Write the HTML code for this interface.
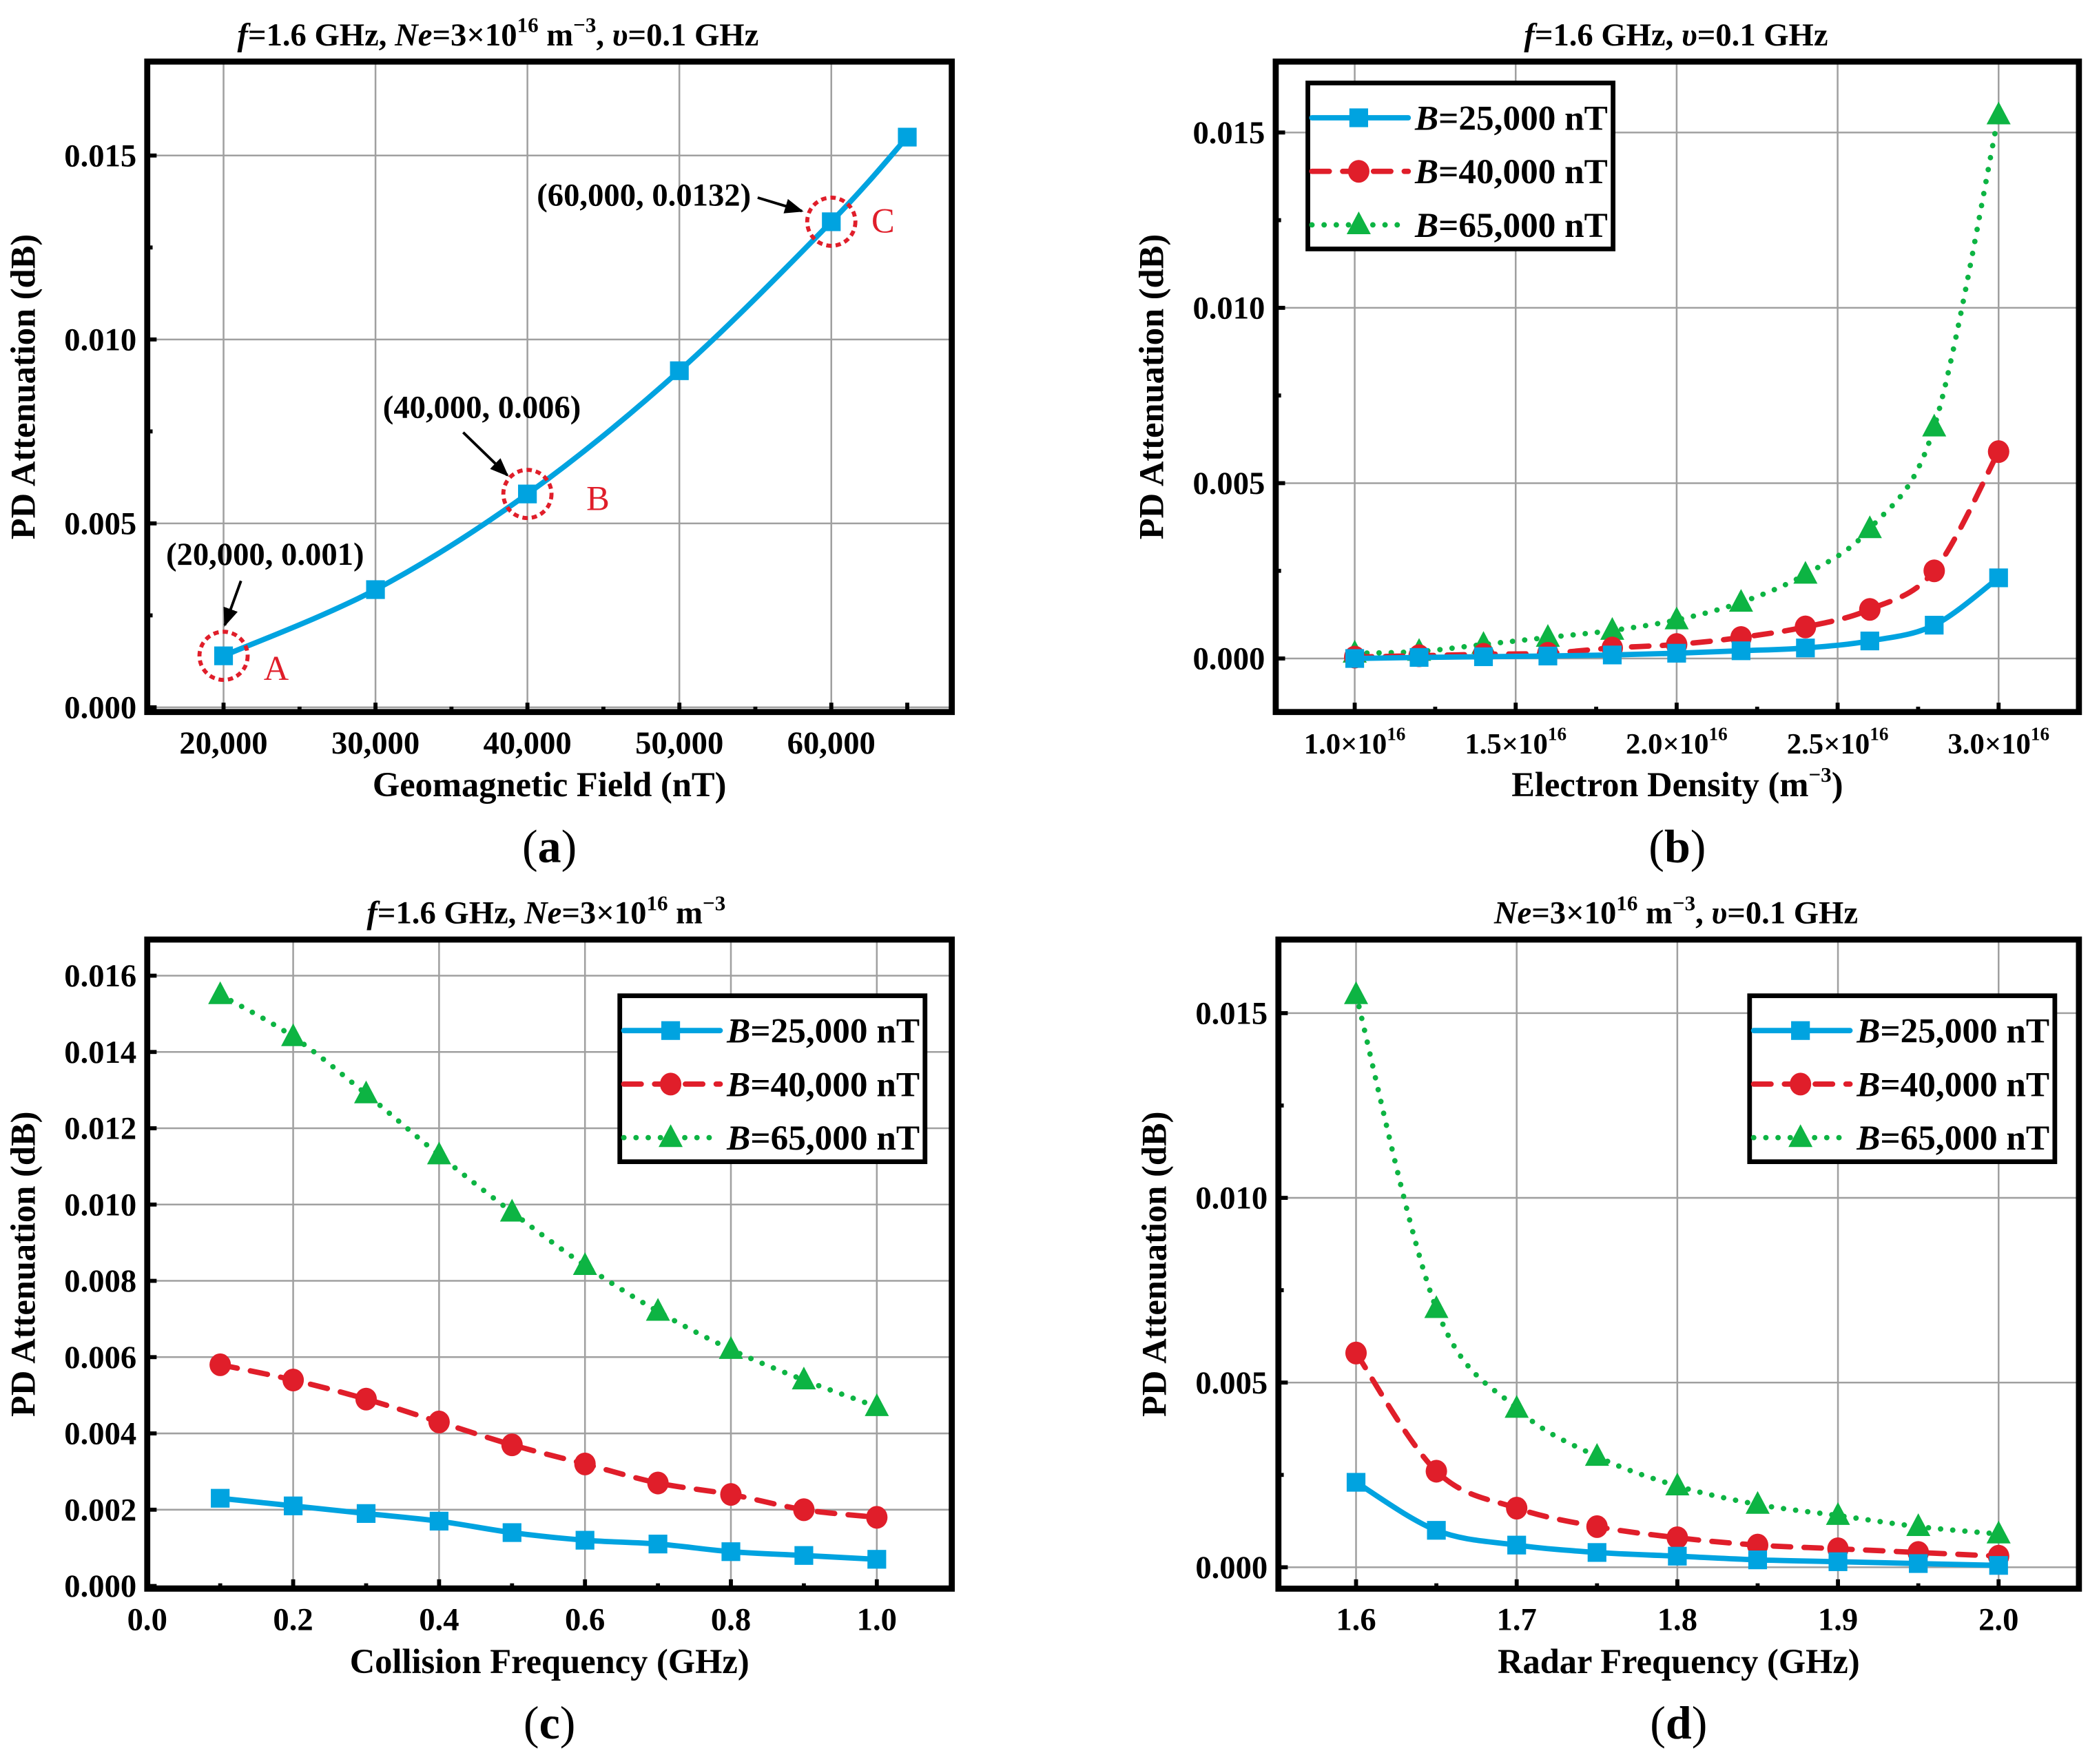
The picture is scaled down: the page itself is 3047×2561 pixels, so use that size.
<!DOCTYPE html>
<html><head><meta charset="utf-8">
<style>
html,body{margin:0;padding:0;background:#fff;}
svg{display:block;}
text{font-family:"Liberation Serif",serif;font-weight:bold;fill:#000;}
</style></head>
<body>
<svg id="fig" width="3047" height="2561" viewBox="0 0 1568 1318" preserveAspectRatio="none" xmlns="http://www.w3.org/2000/svg"></svg>
<script>
// ---- data ----
const aX = [20000, 30000, 40000, 50000, 60000, 65000];
const aY = [0.0014, 0.0032, 0.0058, 0.00915, 0.0132, 0.0155];
const aXTicks = [20000, 30000, 40000, 50000, 60000];
const aXTickLabels = ["20,000", "30,000", "40,000", "50,000", "60,000"];
const aYTicks = [0, 0.005, 0.010, 0.015];
const aYTickLabels = ["0.000", "0.005", "0.010", "0.015"];

const bX = [1.0, 1.2, 1.4, 1.6, 1.8, 2.0, 2.2, 2.4, 2.6, 2.8, 3.0];
const bBlue = [0, 0.00003, 0.00005, 0.00007, 0.0001, 0.00015, 0.00022, 0.0003, 0.0005, 0.00095, 0.0023];
const bRed = [0.00004, 0.00008, 0.00012, 0.00015, 0.0003, 0.0004, 0.0006, 0.0009, 0.0014, 0.0025, 0.0059];
const bGreen = [0.00015, 0.0002, 0.0004, 0.0006, 0.0008, 0.0011, 0.0016, 0.0024, 0.0037, 0.0066, 0.0155];
const bXTicks = [1.0, 1.5, 2.0, 2.5, 3.0];
const bXTickLabels = ["1.0×10", "1.5×10", "2.0×10", "2.5×10", "3.0×10"];
const bYTicks = [0, 0.005, 0.010, 0.015];
const bYTickLabels = ["0.000", "0.005", "0.010", "0.015"];

const cX = [0.1, 0.2, 0.3, 0.4, 0.5, 0.6, 0.7, 0.8, 0.9, 1.0];
const cBlue = [0.0023, 0.0021, 0.0019, 0.0017, 0.0014, 0.0012, 0.0011, 0.0009, 0.0008, 0.0007];
const cRed = [0.0058, 0.0054, 0.0049, 0.0043, 0.0037, 0.0032, 0.0027, 0.0024, 0.0020, 0.0018];
const cGreen = [0.0155, 0.0144, 0.0129, 0.0113, 0.0098, 0.0084, 0.0072, 0.0062, 0.0054, 0.0047];
const cXTicks = [0, 0.2, 0.4, 0.6, 0.8, 1.0];
const cXTickLabels = ["0.0", "0.2", "0.4", "0.6", "0.8", "1.0"];
const cYTicks = [0, 0.002, 0.004, 0.006, 0.008, 0.010, 0.012, 0.014, 0.016];
const cYTickLabels = ["0.000", "0.002", "0.004", "0.006", "0.008", "0.010", "0.012", "0.014", "0.016"];

const dX = [1.6, 1.65, 1.7, 1.75, 1.8, 1.85, 1.9, 1.95, 2.0];
const dBlue = [0.0023, 0.0010, 0.0006, 0.0004, 0.0003, 0.0002, 0.00015, 0.0001, 0.00005];
const dRed = [0.0058, 0.0026, 0.0016, 0.0011, 0.0008, 0.0006, 0.0005, 0.0004, 0.0003];
const dGreen = [0.0155, 0.0070, 0.0043, 0.0030, 0.0022, 0.0017, 0.0014, 0.0011, 0.0009];
const dXTicks = [1.6, 1.7, 1.8, 1.9, 2.0];
const dXTickLabels = ["1.6", "1.7", "1.8", "1.9", "2.0"];
const dYTicks = [0, 0.005, 0.010, 0.015];
const dYTickLabels = ["0.000", "0.005", "0.010", "0.015"];

const legendLabels = ["=25,000 nT", "=40,000 nT", "=65,000 nT"];

// ---- helpers ----
const NS = "http://www.w3.org/2000/svg";
const svg = document.getElementById("fig");
function mk(tag, attrs, parent) {
  const e = document.createElementNS(NS, tag);
  for (const k in attrs) e.setAttribute(k, attrs[k]);
  (parent || svg).appendChild(e);
  return e;
}
function linScale(d0, d1, r0, r1) { return v => r0 + (v - d0) * (r1 - r0) / (d1 - d0); }
function smoothPath(pts) {
  let d = "M" + pts[0][0] + "," + pts[0][1];
  for (let i = 0; i < pts.length - 1; i++) {
    const p0 = pts[Math.max(0, i - 1)], p1 = pts[i], p2 = pts[i + 1], p3 = pts[Math.min(pts.length - 1, i + 2)];
    const c1x = p1[0] + (p2[0] - p0[0]) / 6, c1y = p1[1] + (p2[1] - p0[1]) / 6;
    const c2x = p2[0] - (p3[0] - p1[0]) / 6, c2y = p2[1] - (p3[1] - p1[1]) / 6;
    d += " C" + c1x + "," + c1y + " " + c2x + "," + c2y + " " + p2[0] + "," + p2[1];
  }
  return d;
}
const STY = {
  blue: {color: "#00a3e0", dash: null, cap: "round", marker: "square"},
  red: {color: "#e01e2a", dash: "13,10", cap: "round", marker: "circle"},
  green: {color: "#0db443", dash: "0.1,9", cap: "round", marker: "tri"}
};
function marker(g, kind, x, y, color) {
  let m;
  if (kind === "square") m = mk("rect", {x: x - 7, y: y - 7, width: 14, height: 14, fill: color}, g);
  else if (kind === "circle") m = mk("ellipse", {cx: x, cy: y, rx: 8, ry: 8.5, fill: color}, g);
  else m = mk("polygon", {points: (x) + "," + (y - 10) + " " + (x - 9) + "," + (y + 7) + " " + (x + 9) + "," + (y + 7), fill: color}, g);
  return m;
}
function series(g, xs, ys, sx, sy, sty, name) {
  const pts = xs.map((v, i) => [sx(v), sy(ys[i])]);
  const s = mk("g", {}, g);
  
  
  const attrs = {d: smoothPath(pts), fill: "none", stroke: sty.color, "stroke-width": 4, "stroke-linecap": sty.cap};
  if (sty.dash) attrs["stroke-dasharray"] = sty.dash;
  const p = mk("path", attrs, s);
  
  
  pts.forEach((pt, i) => {
    const m = marker(s, sty.marker, pt[0], pt[1], sty.color);
    
    
  });
}

function panel(cfg) {
  const g = mk("g", {});
  
  
  const B = cfg.box;
  const sx = linScale(cfg.xd[0], cfg.xd[1], cfg.xr[0], cfg.xr[1]);
  const sy = linScale(cfg.yd[0], cfg.yd[1], cfg.yr[0], cfg.yr[1]);
  const grid = mk("g", {stroke: "#a0a0a0", "stroke-width": 1.3}, g);
  
  
  cfg.gx.forEach(v => { const l = mk("line", {x1: sx(v), x2: sx(v), y1: B[1], y2: B[3]}, grid);
    
     });
  cfg.yt.forEach(v => { const l = mk("line", {x1: B[0], x2: B[2], y1: sy(v), y2: sy(v)}, grid);
    
     });
  const tk = mk("g", {stroke: "#000", "stroke-width": 3}, g);
  
  
  cfg.xt.forEach(v => { const l = mk("line", {x1: sx(v), x2: sx(v), y1: B[3], y2: B[3] - 7}, tk);
    
     });
  cfg.yt.forEach(v => { const l = mk("line", {x1: B[0], x2: B[0] + 7, y1: sy(v), y2: sy(v)}, tk);
    
     });
  cfg.ymt.forEach(v => { const l = mk("line", {x1: B[0], x2: B[0] + 4, y1: sy(v), y2: sy(v)}, tk);
    
     });
  cfg.xmt.forEach(v => { const l = mk("line", {x1: sx(v), x2: sx(v), y1: B[3], y2: B[3] - 4}, tk);
    
     });
  cfg.xt.forEach((v, i) => {
    const t = mk("text", {x: sx(v), y: B[3] + 31, "text-anchor": "middle", "font-size": cfg.sup ? 22 : 24}, g);
    
    
    t.textContent = cfg.xl[i];
    if (cfg.sup) { const s = mk("tspan", {"font-size": 14, dy: -10}, t); s.textContent = "16"; }
  });
  cfg.yt.forEach((v, i) => {
    const t = mk("text", {x: B[0] - 8, y: sy(v) + 8, "text-anchor": "end", "font-size": 24}, g);
    
    
    t.textContent = cfg.yl[i];
  });
  cfg.series.forEach(s => series(g, s.x, s.y, sx, sy, STY[s.sty], s.name));
  const fr = mk("rect", {x: B[0], y: B[1], width: B[2] - B[0], height: B[3] - B[1], fill: "none", stroke: "#000", "stroke-width": 4.5}, g);
  
  
  const cx = (B[0] + B[2]) / 2;
  const xt = mk("text", {x: cx, y: B[3] + 63, "text-anchor": "middle", "font-size": 26}, g);
  
  
  xt.textContent = cfg.xtitle;
  if (cfg.xtitleSup) { const s = mk("tspan", {"font-size": 16, dy: -11}, xt); s.textContent = "−3"; const s2 = mk("tspan", {dy: 11}, xt); s2.textContent = ")"; }
  const yc = (B[1] + B[3]) / 2;
  const ya = B[0] - 84;
  const yt = mk("text", {x: ya, y: yc, "text-anchor": "middle", "font-size": 26, transform: "rotate(-90 " + ya + " " + yc + ")"}, g);
  
  
  yt.textContent = "PD Attenuation (dB)";
  const tt = mk("text", {x: cfg.titleX, y: B[1] - 12, "text-anchor": "middle", "font-size": 24}, g);
  
  
  cfg.title.forEach(p => { const s = mk("tspan", p.a || {}, tt); s.textContent = p.t; });
  const pl = mk("text", {x: cx, y: B[3] + 112, "text-anchor": "middle", "font-size": 35}, g);
  
  
  const p1 = mk("tspan", {"font-weight": "normal"}, pl); p1.textContent = "(";
  const p2 = mk("tspan", {}, pl); p2.textContent = cfg.label;
  const p3 = mk("tspan", {"font-weight": "normal"}, pl); p3.textContent = ")";
  if (cfg.legend) {
    const L = cfg.legend;
    const lg = mk("g", {}, g);
    
    
    const lr = mk("rect", {x: L[0], y: L[1], width: 228, height: 124, fill: "#fff", stroke: "#000", "stroke-width": 3.5}, lg);
    
    
    ["blue", "red", "green"].forEach((k, i) => {
      const st = STY[k];
      const y = L[1] + 26 + i * 40;
      const e = mk("g", {}, lg);
      
      
      const la = {x1: L[0] + 3, x2: L[0] + 75, y1: y, y2: y, stroke: st.color, "stroke-width": 4, "stroke-linecap": "round"};
      if (st.dash) la["stroke-dasharray"] = st.dash;
      mk("line", la, e);
      marker(e, st.marker, L[0] + 38, y, st.color);
      const t = mk("text", {x: L[0] + 80, y: y + 9, "font-size": 26, textLength: 144, lengthAdjust: "spacingAndGlyphs"}, e);
      const b = mk("tspan", {"font-style": "italic"}, t); b.textContent = "B";
      const r = mk("tspan", {}, t); r.textContent = legendLabels[i];
    });
  }
  return {g, sx, sy};
}

const SUP = {"font-size": 16, dy: -10};
const titleA = [{t: "f", a: {"font-style": "italic"}}, {t: "=1.6 GHz, "}, {t: "Ne", a: {"font-style": "italic"}}, {t: "=3×10"}, {t: "16", a: SUP}, {t: " m", a: {dy: 10}}, {t: "−3", a: SUP}, {t: ", ", a: {dy: 10}}, {t: "υ", a: {"font-style": "italic"}}, {t: "=0.1 GHz"}];
const titleB = [{t: "f", a: {"font-style": "italic"}}, {t: "=1.6 GHz, "}, {t: "υ", a: {"font-style": "italic"}}, {t: "=0.1 GHz"}];
const titleC = [{t: "f", a: {"font-style": "italic"}}, {t: "=1.6 GHz, "}, {t: "Ne", a: {"font-style": "italic"}}, {t: "=3×10"}, {t: "16", a: SUP}, {t: " m", a: {dy: 10}}, {t: "−3", a: SUP}];
const titleD = [{t: "Ne", a: {"font-style": "italic"}}, {t: "=3×10"}, {t: "16", a: SUP}, {t: " m", a: {dy: 10}}, {t: "−3", a: SUP}, {t: ", ", a: {dy: 10}}, {t: "υ", a: {"font-style": "italic"}}, {t: "=0.1 GHz"}];

const pa = panel({name: "panel-a", box: [110, 46, 711, 532], xd: [20000, 60000], xr: [167, 621], yd: [0, 0.015], yr: [528.5, 116.2],
  gx: [20000, 30000, 40000, 50000, 60000], xt: aXTicks.concat([65000]), xl: aXTickLabels.concat([""]), xmt: [25000, 35000, 45000, 55000],
  yt: aYTicks, yl: aYTickLabels, ymt: [0.0025, 0.0075, 0.0125],
  series: [{x: aX, y: aY, sty: "blue", name: "series-geomagnetic"}],
  xtitle: "Geomagnetic Field (nT)", title: titleA, titleX: 372, label: "a"});

const pb = panel({name: "panel-b", box: [953, 46, 1553, 532], xd: [1.0, 3.0], xr: [1012, 1493], yd: [0, 0.015], yr: [492, 99],
  gx: bXTicks, xt: bXTicks, xl: bXTickLabels, xmt: [1.25, 1.75, 2.25, 2.75], sup: true,
  yt: bYTicks, yl: bYTickLabels, ymt: [0.0025, 0.0075, 0.0125],
  series: [{x: bX, y: bGreen, sty: "green", name: "series-b65000"}, {x: bX, y: bRed, sty: "red", name: "series-b40000"}, {x: bX, y: bBlue, sty: "blue", name: "series-b25000"}],
  xtitle: "Electron Density (m", xtitleSup: true, title: titleB, titleX: 1252, label: "b", legend: [977, 62]});

const pc = panel({name: "panel-c", box: [110, 702, 711, 1187], xd: [0, 1.0], xr: [110, 655], yd: [0, 0.016], yr: [1185, 729],
  gx: [0.2, 0.4, 0.6, 0.8, 1.0], xt: cXTicks, xl: cXTickLabels, xmt: [0.1, 0.3, 0.5, 0.7, 0.9],
  yt: cYTicks, yl: cYTickLabels, ymt: [],
  series: [{x: cX, y: cGreen, sty: "green", name: "series-c65000"}, {x: cX, y: cRed, sty: "red", name: "series-c40000"}, {x: cX, y: cBlue, sty: "blue", name: "series-c25000"}],
  xtitle: "Collision Frequency (GHz)", title: titleC, titleX: 408, label: "c", legend: [463, 744]});

const pd = panel({name: "panel-d", box: [955, 702, 1553, 1187], xd: [1.6, 2.0], xr: [1013, 1493], yd: [0, 0.015], yr: [1171, 757],
  gx: dXTicks, xt: dXTicks, xl: dXTickLabels, xmt: [1.65, 1.75, 1.85, 1.95],
  yt: dYTicks, yl: dYTickLabels, ymt: [0.0025, 0.0075, 0.0125],
  series: [{x: dX, y: dGreen, sty: "green", name: "series-d65000"}, {x: dX, y: dRed, sty: "red", name: "series-d40000"}, {x: dX, y: dBlue, sty: "blue", name: "series-d25000"}],
  xtitle: "Radar Frequency (GHz)", title: titleD, titleX: 1252, label: "d", legend: [1307, 744]});

// annotations in panel a
const annIdx = [0, 2, 4];
const annNames = ["A", "B", "C"];
const annText = ["(20,000, 0.001)", "(40,000, 0.006)", "(60,000, 0.0132)"];
const ann = mk("g", {}, pa.g);


mk("defs", {}, ann).innerHTML = '<marker id="ah" viewBox="0 0 10 10" refX="9" refY="5" markerWidth="7" markerHeight="7" orient="auto"><path d="M0,1 L10,5 L0,9 z" fill="#000"/></marker>';
// [labelDx, labelDy, textDx, textDy, arrowStartDx, arrowStartDy, arrowEndDx, arrowEndDy]
const annOff = [[30, 18, 31, -68, 13, -56, 1, -23], [44, 12, -34, -57, -48, -46, -15, -14], [30, 8, -140, -12, -55, -18, -22, -8]];
annIdx.forEach((k, i) => {
  const cx = pa.sx(aX[k]), cy = pa.sy(aY[k]);
  const o = annOff[i];
  const c = mk("circle", {cx: cx, cy: cy, r: 18, fill: "none", stroke: "#e01e2a", "stroke-width": 3, "stroke-dasharray": "4,3"}, ann);
  
  
  const l = mk("text", {x: cx + o[0], y: cy + o[1], "font-size": 26, style: "fill:#e01e2a;font-weight:normal"}, ann);
  
  
  l.textContent = annNames[i];
  const t = mk("text", {x: cx + o[2], y: cy + o[3], "text-anchor": "middle", "font-size": 24}, ann);
  
  
  t.textContent = annText[i];
  const a = mk("line", {x1: cx + o[4], y1: cy + o[5], x2: cx + o[6], y2: cy + o[7], stroke: "#000", "stroke-width": 2, "marker-end": "url(#ah)"}, ann);
  
  
});
</script>
</body></html>
